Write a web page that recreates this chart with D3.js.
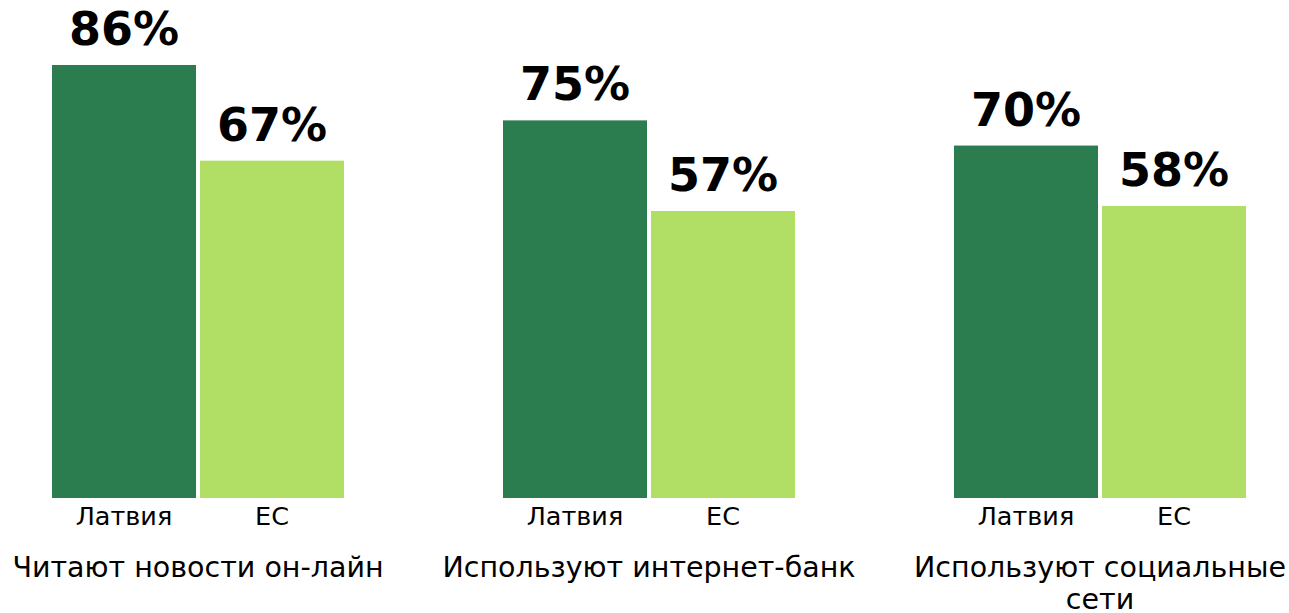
<!DOCTYPE html>
<html>
<head>
<meta charset="utf-8">
<script src="https://cdn.jsdelivr.net/npm/d3@7"></script>
<style>
  body { margin: 0; background: #fff; }
  text { font-family: "DejaVu Sans", Verdana, sans-serif; fill: #000; }
</style>
</head>
<body>
<div id="chart"></div>
<script>
// data
const groupsTitles = ["Читают новости он-лайн", "Используют интернет-банк", "Используют социальные сети"];
const seriesNames = ["Латвия", "ЕС"];
const latviaValues = [86, 75, 70];
const euValues = [67, 57, 58];
const colors = ["#2b7c4e", "#b1de64"];

const width = 1289, height = 613;
const baseY = 498;

const svg = d3.select("#chart").append("svg")
    .attr("width", width)
    .attr("height", height);

const x0 = d3.scaleBand()
    .domain(groupsTitles)
    .range([52, 1246])
    .paddingInner(0.3525)
    .paddingOuter(0);

const x1 = d3.scaleBand()
    .domain(seriesNames)
    .range([0, x0.bandwidth()])
    .paddingInner(0.027);

const y = d3.scaleLinear()
    .domain([0, 100])
    .range([baseY, baseY - 503.5]);

const color = d3.scaleOrdinal().domain(seriesNames).range(colors);

const rows = groupsTitles.map((t, i) => ({
  title: t,
  values: [
    {name: seriesNames[0], value: latviaValues[i]},
    {name: seriesNames[1], value: euValues[i]}
  ]
}));

const g = svg.selectAll("g.group")
  .data(rows)
  .enter().append("g")
    .attr("class", "group")
    .attr("transform", d => "translate(" + x0(d.title) + ",0)");

g.selectAll("rect")
  .data(d => d.values)
  .enter().append("rect")
    .attr("x", d => x1(d.name))
    .attr("width", x1.bandwidth())
    .attr("y", d => y(d.value))
    .attr("height", d => baseY - y(d.value))
    .style("fill", d => color(d.name));

// value labels
g.selectAll("text.val")
  .data(d => d.values)
  .enter().append("text")
    .attr("class", "val")
    .attr("x", d => x1(d.name) + x1.bandwidth() / 2)
    .attr("y", d => y(d.value) - 20)
    .attr("text-anchor", "middle")
    .style("font-size", "46px")
    .style("font-weight", "bold")
    .text(d => d.value + "%");

// series labels under bars
g.selectAll("text.cat")
  .data(d => d.values)
  .enter().append("text")
    .attr("class", "cat")
    .attr("x", d => x1(d.name) + x1.bandwidth() / 2)
    .attr("y", 525)
    .attr("text-anchor", "middle")
    .style("font-size", "25.5px")
    .text(d => d.name);

// group titles, wrapped
g.append("text")
    .attr("class", "title")
    .attr("x", x0.bandwidth() / 2)
    .attr("y", 577)
    .attr("text-anchor", "middle")
    .style("font-size", "28.5px")
    .each(function(d) { wrap(d3.select(this), d.title, 420); });

function wrap(textSel, str, maxW) {
  const words = str.split(" ");
  let line = [];
  const xx = textSel.attr("x");
  let tspan = textSel.append("tspan").attr("x", xx).attr("dy", 0);
  words.forEach(w => {
    line.push(w);
    tspan.text(line.join(" "));
    if (tspan.node().getComputedTextLength() > maxW && line.length > 1) {
      line.pop();
      tspan.text(line.join(" "));
      line = [w];
      tspan = textSel.append("tspan").attr("x", xx).attr("dy", "1.13em").text(w);
    }
  });
}
</script>
</body>
</html>
